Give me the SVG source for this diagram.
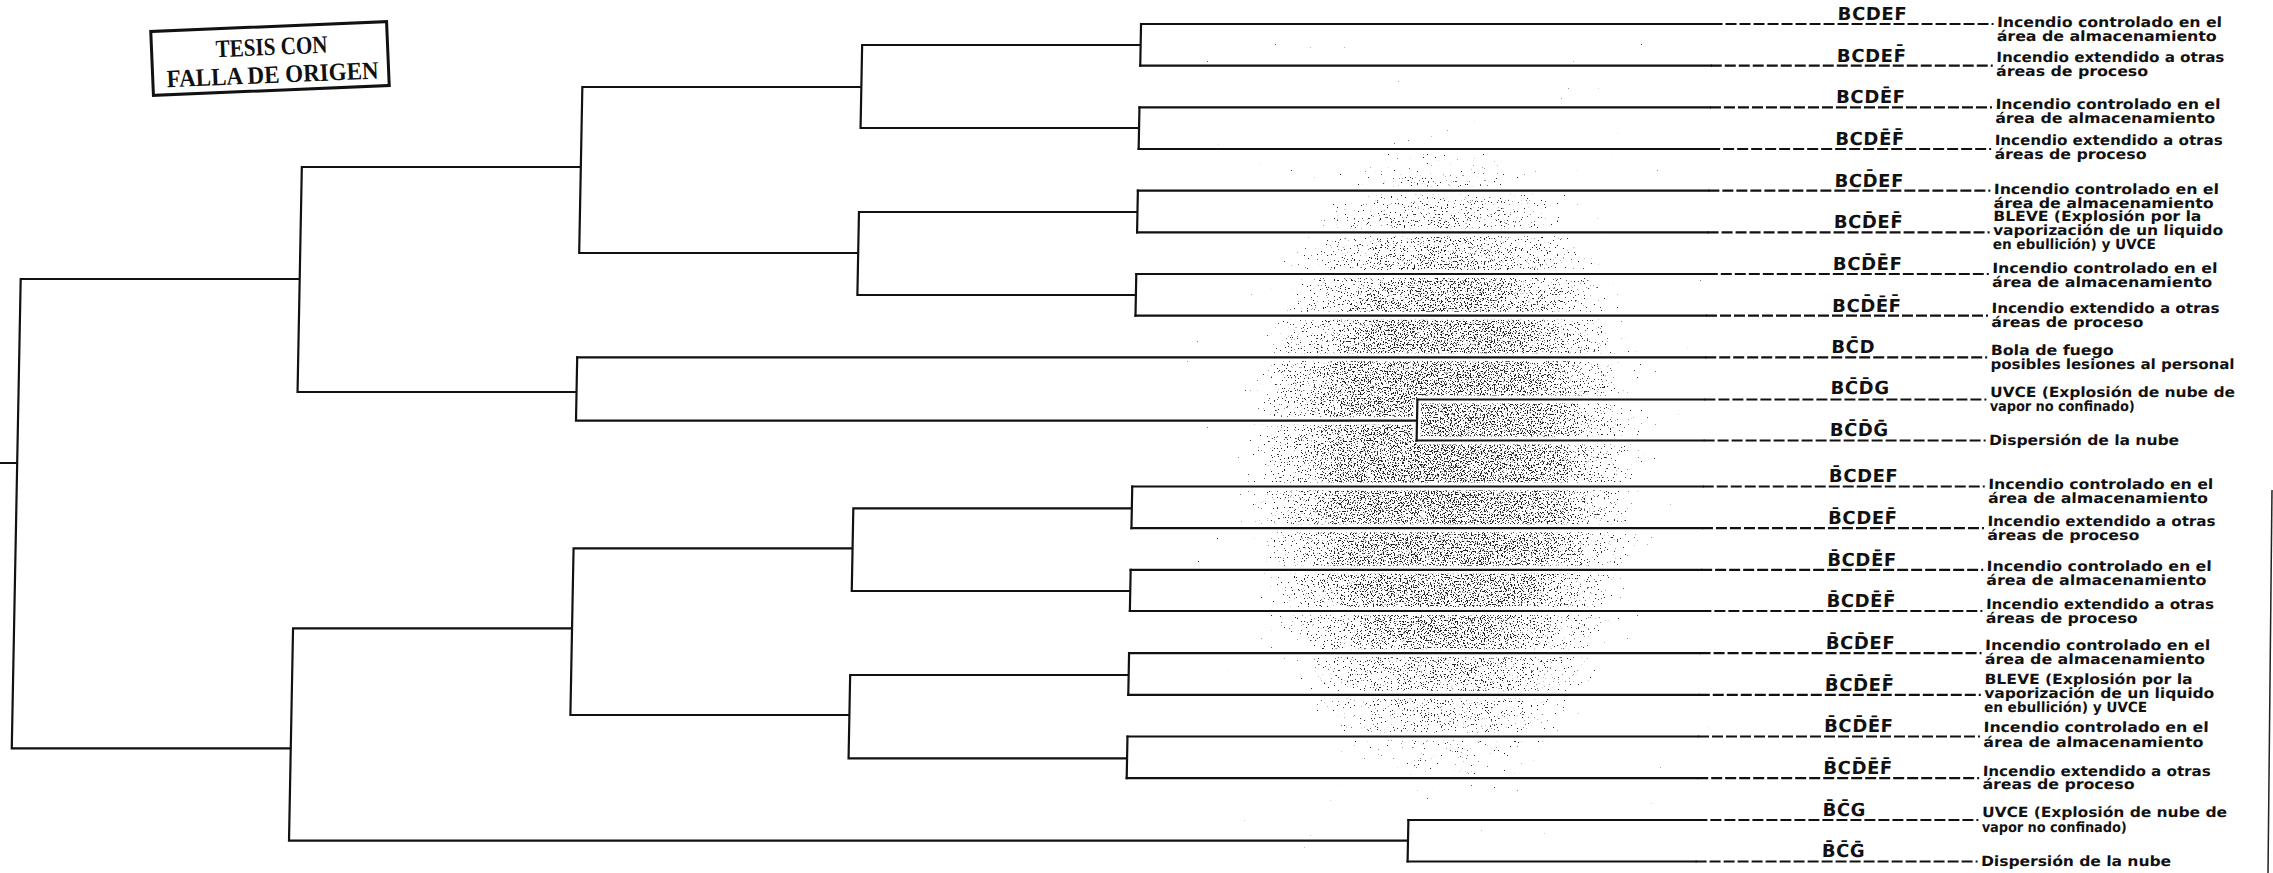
<svg xmlns="http://www.w3.org/2000/svg" width="2273" height="873" viewBox="0 0 2273 873">
<style>
.ln{stroke:#111;stroke-width:2.2;fill:none;stroke-linecap:square}
.dash{stroke-dasharray:11 3;stroke-linecap:butt}
.halo{stroke:#fff;stroke-width:8;fill:none}
.lbl{font-family:"DejaVu Sans","Liberation Sans",sans-serif;font-weight:bold;font-size:18px;letter-spacing:0.6px;fill:#111}
.desc{font-family:"DejaVu Sans","Liberation Sans",sans-serif;font-weight:bold;font-size:14px;fill:#111}
.stp{font-family:"Liberation Serif",serif;font-weight:bold;font-size:25px;fill:#111;text-anchor:middle}
</style>
<defs>
<radialGradient id="cloudGrad" cx="0.5" cy="0.5" r="0.5">
<stop offset="0" stop-color="#000" stop-opacity="0.32"/>
<stop offset="0.5" stop-color="#000" stop-opacity="0.29"/>
<stop offset="0.8" stop-color="#000" stop-opacity="0.17"/>
<stop offset="1" stop-color="#000" stop-opacity="0"/>
</radialGradient>
<filter id="speckle" color-interpolation-filters="sRGB">
<feTurbulence type="fractalNoise" baseFrequency="0.7" numOctaves="2" seed="7" result="noise"/>
<feColorMatrix in="noise" type="matrix" values="0 0 0 0 0  0 0 0 0 0  0 0 0 0 0  1 0 0 0 0" result="na"/>
<feComposite in="na" in2="SourceGraphic" operator="arithmetic" k1="0" k2="20" k3="20" k4="-17.2"/>
</filter>
</defs>
<rect width="2273" height="873" fill="#fff"/>
<g id="cloud" opacity="0.85">
<ellipse cx="1445" cy="465" rx="220" ry="355" fill="url(#cloudGrad)" filter="url(#speckle)"/>
<path class="halo" transform="skewX(-1.09)" d="M1141.5 24H1712M1141.5 65.7H1712M1141.5 107.3H1712M1141.5 149H1712M1141.5 190.7H1712M1141.5 232.3H1712M1141.5 274H1712M1141.5 315.7H1712M1141.5 357.3H1712M1425 399.5H1712M1141.5 420.7H1425M1425 399.5V440.5M1425 440.5H1712M1141.5 486.5H1712M1141.5 528.2H1712M1141.5 569.8H1712M1141.5 611H1712M1141.5 653.2H1712M1141.5 694.8H1712M1141.5 736.5H1712M1141.5 778.2H1712M1141.5 840.7H1424M1424 820V861.5M1424 820H1712M1424 861.5H1712"/>
</g>
<g id="stamp" transform="rotate(-2.4 270 58.5)">
<rect x="152" y="26.5" width="236" height="64" fill="none" stroke="#111" stroke-width="3"/>
<text class="stp" x="272" y="55" textLength="112" lengthAdjust="spacingAndGlyphs">TESIS CON</text>
<text class="stp" x="272" y="83" textLength="212" lengthAdjust="spacingAndGlyphs">FALLA DE ORIGEN</text>
</g>
<g id="page" transform="skewX(-1.09)">
<g id="connectors">
<path class="ln" d="M-20 463H26M26 279V748.3
M26 279H305M305 167V392
M305 167H584M584 87V253
M584 87H863M863 45V128
M863 45H1141.5M1141.5 24V65.7
M863 128H1141.5M1141.5 107.3V149
M584 253H863M863 212V295
M863 212H1141.5M1141.5 190.7V232.3
M863 295H1141.5M1141.5 274V315.7
M305 392H584M584 357.3V420.7
M584 420.7H1425M1425 399.5V440.5
M26 748.3H305M305 628.3V840.7
M305 628.3H584M584 548.3V715
M584 548.3H863M863 508.3V591
M863 508.3H1141.5M1141.5 486.5V528.2
M863 591H1141.5M1141.5 569.8V611
M584 715H863M863 675V758.3
M863 675H1141.5M1141.5 653.2V694.8
M863 758.3H1141.5M1141.5 736.5V778.2
M305 840.7H1424M1424 820V861.5"/>
<path class="ln" d="M1141.5 24H1712M1141.5 65.7H1712M1141.5 107.3H1712M1141.5 149H1712M1141.5 190.7H1712M1141.5 232.3H1712M1141.5 274H1712M1141.5 315.7H1712M584 357.3H1712M1425 399.5H1712M1425 440.5H1712M1141.5 486.5H1712M1141.5 528.2H1712M1141.5 569.8H1712M1141.5 611H1712M1141.5 653.2H1712M1141.5 694.8H1712M1141.5 736.5H1712M1141.5 778.2H1712M1424 820H1712M1424 861.5H1712"/>
<path class="ln dash" d="M1712 24H1994M1712 65.7H1994M1712 107.3H1994M1712 149H1994M1712 190.7H1994M1712 232.3H1994M1712 274H1994M1712 315.7H1994M1712 357.3H1994M1712 399.5H1994M1712 440.5H1994M1712 486.5H1994M1712 528.2H1994M1712 569.8H1994M1712 611H1994M1712 653.2H1994M1712 694.8H1994M1712 736.5H1994M1712 778.2H1994M1712 820H1994M1712 861.5H1994"/>
</g>
<g id="leaf-01"><text class="lbl" x="1838" y="20">BCDEF</text>
<text class="desc" x="1997.5" y="27" textLength="225" lengthAdjust="spacingAndGlyphs">Incendio controlado en el</text>
<text class="desc" x="1997.5" y="41" textLength="220" lengthAdjust="spacingAndGlyphs">área de almacenamiento</text></g>
<g id="leaf-02"><text class="lbl" x="1838" y="61.7">BCDEF&#x304;</text>
<text class="desc" x="1997.5" y="62" textLength="228" lengthAdjust="spacingAndGlyphs">Incendio extendido a otras</text>
<text class="desc" x="1997.5" y="76" textLength="152" lengthAdjust="spacingAndGlyphs">áreas de proceso</text></g>
<g id="leaf-03"><text class="lbl" x="1838" y="103.3">BCDE&#x304;F</text>
<text class="desc" x="1997.5" y="109.5" textLength="225" lengthAdjust="spacingAndGlyphs">Incendio controlado en el</text>
<text class="desc" x="1997.5" y="123.5" textLength="220" lengthAdjust="spacingAndGlyphs">área de almacenamiento</text></g>
<g id="leaf-04"><text class="lbl" x="1838" y="145">BCDE&#x304;F&#x304;</text>
<text class="desc" x="1997.5" y="145" textLength="228" lengthAdjust="spacingAndGlyphs">Incendio extendido a otras</text>
<text class="desc" x="1997.5" y="159" textLength="152" lengthAdjust="spacingAndGlyphs">áreas de proceso</text></g>
<g id="leaf-05"><text class="lbl" x="1838" y="186.7">BCD&#x304;EF</text>
<text class="desc" x="1997.5" y="194" textLength="225" lengthAdjust="spacingAndGlyphs">Incendio controlado en el</text>
<text class="desc" x="1997.5" y="208" textLength="220" lengthAdjust="spacingAndGlyphs">área de almacenamiento</text></g>
<g id="leaf-06"><text class="lbl" x="1838" y="228.3">BCD&#x304;EF&#x304;</text>
<text class="desc" x="1997.5" y="221.5" textLength="208" lengthAdjust="spacingAndGlyphs">BLEVE (Explosión por la</text>
<text class="desc" x="1997.5" y="235.5" textLength="230" lengthAdjust="spacingAndGlyphs">vaporización de un liquido</text>
<text class="desc" x="1997.5" y="249.5" textLength="163" lengthAdjust="spacingAndGlyphs">en ebullición) y UVCE</text></g>
<g id="leaf-07"><text class="lbl" x="1838" y="270">BCD&#x304;E&#x304;F</text>
<text class="desc" x="1997.5" y="273.5" textLength="225" lengthAdjust="spacingAndGlyphs">Incendio controlado en el</text>
<text class="desc" x="1997.5" y="287.5" textLength="220" lengthAdjust="spacingAndGlyphs">área de almacenamiento</text></g>
<g id="leaf-08"><text class="lbl" x="1838" y="311.7">BCD&#x304;E&#x304;F&#x304;</text>
<text class="desc" x="1997.5" y="313.5" textLength="228" lengthAdjust="spacingAndGlyphs">Incendio extendido a otras</text>
<text class="desc" x="1997.5" y="327.5" textLength="152" lengthAdjust="spacingAndGlyphs">áreas de proceso</text></g>
<g id="leaf-09"><text class="lbl" x="1838" y="353.3">BC&#x304;D</text>
<text class="desc" x="1997.5" y="355.5" textLength="123" lengthAdjust="spacingAndGlyphs">Bola de fuego</text>
<text class="desc" x="1997.5" y="369" textLength="244" lengthAdjust="spacingAndGlyphs">posibles lesiones al personal</text></g>
<g id="leaf-10"><text class="lbl" x="1838" y="394">BC&#x304;D&#x304;G</text>
<text class="desc" x="1997.5" y="397" textLength="245" lengthAdjust="spacingAndGlyphs">UVCE (Explosión de nube de</text>
<text class="desc" x="1997.5" y="411.5" textLength="145" lengthAdjust="spacingAndGlyphs">vapor no confinado)</text></g>
<g id="leaf-11"><text class="lbl" x="1838" y="436.5">BC&#x304;D&#x304;G&#x304;</text>
<text class="desc" x="1997.5" y="445.5" textLength="190" lengthAdjust="spacingAndGlyphs">Dispersión de la nube</text></g>
<g id="leaf-12"><text class="lbl" x="1838" y="482.5">B&#x304;CDEF</text>
<text class="desc" x="1997.5" y="489" textLength="225" lengthAdjust="spacingAndGlyphs">Incendio controlado en el</text>
<text class="desc" x="1997.5" y="503" textLength="220" lengthAdjust="spacingAndGlyphs">área de almacenamiento</text></g>
<g id="leaf-13"><text class="lbl" x="1838" y="524.2">B&#x304;CDEF&#x304;</text>
<text class="desc" x="1997.5" y="526" textLength="228" lengthAdjust="spacingAndGlyphs">Incendio extendido a otras</text>
<text class="desc" x="1997.5" y="540" textLength="152" lengthAdjust="spacingAndGlyphs">áreas de proceso</text></g>
<g id="leaf-14"><text class="lbl" x="1838" y="565.8">B&#x304;CDE&#x304;F</text>
<text class="desc" x="1997.5" y="571.5" textLength="225" lengthAdjust="spacingAndGlyphs">Incendio controlado en el</text>
<text class="desc" x="1997.5" y="585.5" textLength="220" lengthAdjust="spacingAndGlyphs">área de almacenamiento</text></g>
<g id="leaf-15"><text class="lbl" x="1838" y="607">B&#x304;CDE&#x304;F&#x304;</text>
<text class="desc" x="1997.5" y="609.5" textLength="228" lengthAdjust="spacingAndGlyphs">Incendio extendido a otras</text>
<text class="desc" x="1997.5" y="623" textLength="152" lengthAdjust="spacingAndGlyphs">áreas de proceso</text></g>
<g id="leaf-16"><text class="lbl" x="1838" y="649.2">B&#x304;CD&#x304;EF</text>
<text class="desc" x="1997.5" y="650" textLength="225" lengthAdjust="spacingAndGlyphs">Incendio controlado en el</text>
<text class="desc" x="1997.5" y="664" textLength="220" lengthAdjust="spacingAndGlyphs">área de almacenamiento</text></g>
<g id="leaf-17"><text class="lbl" x="1838" y="690.8">B&#x304;CD&#x304;EF&#x304;</text>
<text class="desc" x="1997.5" y="684" textLength="208" lengthAdjust="spacingAndGlyphs">BLEVE (Explosión por la</text>
<text class="desc" x="1997.5" y="698" textLength="230" lengthAdjust="spacingAndGlyphs">vaporización de un liquido</text>
<text class="desc" x="1997.5" y="712.5" textLength="163" lengthAdjust="spacingAndGlyphs">en ebullición) y UVCE</text></g>
<g id="leaf-18"><text class="lbl" x="1838" y="732.5">B&#x304;CD&#x304;E&#x304;F</text>
<text class="desc" x="1997.5" y="732.5" textLength="225" lengthAdjust="spacingAndGlyphs">Incendio controlado en el</text>
<text class="desc" x="1997.5" y="747" textLength="220" lengthAdjust="spacingAndGlyphs">área de almacenamiento</text></g>
<g id="leaf-19"><text class="lbl" x="1838" y="774.2">B&#x304;CD&#x304;E&#x304;F&#x304;</text>
<text class="desc" x="1997.5" y="776" textLength="228" lengthAdjust="spacingAndGlyphs">Incendio extendido a otras</text>
<text class="desc" x="1997.5" y="789.5" textLength="152" lengthAdjust="spacingAndGlyphs">áreas de proceso</text></g>
<g id="leaf-20"><text class="lbl" x="1838" y="816">B&#x304;C&#x304;G</text>
<text class="desc" x="1997.5" y="817.5" textLength="245" lengthAdjust="spacingAndGlyphs">UVCE (Explosión de nube de</text>
<text class="desc" x="1997.5" y="832" textLength="145" lengthAdjust="spacingAndGlyphs">vapor no confinado)</text></g>
<g id="leaf-21"><text class="lbl" x="1838" y="857.5">B&#x304;C&#x304;G&#x304;</text>
<text class="desc" x="1997.5" y="866" textLength="190" lengthAdjust="spacingAndGlyphs">Dispersión de la nube</text></g>
</g>
<g id="edge">
<path d="M2272 490L2268 873" stroke="#222" stroke-width="1.5" fill="none"/>
</g>
</svg>
